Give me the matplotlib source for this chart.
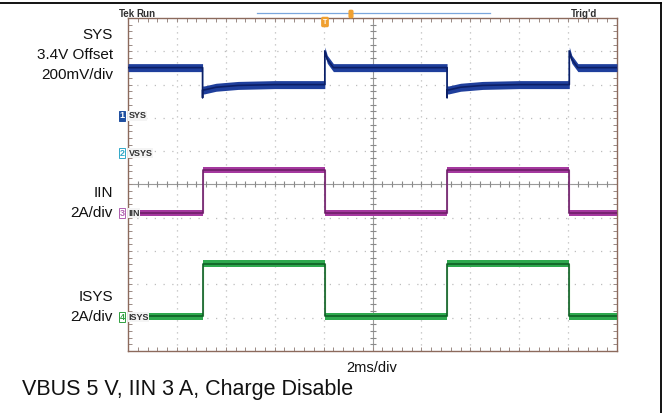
import matplotlib.pyplot as plt
import numpy as np

plt.rcParams['font.family'] = ['Liberation Sans', 'DejaVu Sans']

# time in ms (2 ms/div, 10 div)
time_sys = [0.0, 3.05, 3.05, 3.05, 3.12, 3.6, 4.5, 6.0, 8.05, 8.05, 8.15, 8.4,
            13.05, 13.05, 13.05, 13.12, 13.6, 14.5, 16.0, 18.05, 18.05, 18.15, 18.4, 20.0]
sys_v = [3.69, 3.69, 3.51, 3.556, 3.556, 3.572, 3.583, 3.588, 3.588, 3.79, 3.74, 3.69,
         3.69, 3.51, 3.556, 3.556, 3.572, 3.583, 3.588, 3.588, 3.79, 3.74, 3.69, 3.69]

time_iin = [0.0, 3.05, 3.05, 8.05, 8.05, 13.05, 13.05, 18.05, 18.05, 20.0]
iin_a = [0.0, 0.0, 2.6, 2.6, 0.0, 0.0, 2.6, 2.6, 0.0, 0.0]

time_isys = [0.0, 3.05, 3.05, 8.05, 8.05, 13.05, 13.05, 18.05, 18.05, 20.0]
isys_a = [0.05, 0.05, 3.2, 3.2, 0.05, 0.05, 3.2, 3.2, 0.05, 0.05]

W, H = 669, 413


def px(x, y):
    return x / W, 1 - y / H


fig = plt.figure(figsize=(W / 100, H / 100), dpi=100)
fig.patch.set_facecolor('white')

ax = fig.add_axes([128 / W, 1 - 351 / H, (617 - 128) / W, (351 - 18) / H])
ax.set_xlim(0, 20)
ax.set_ylim(0, 10)

# graticule
for gx in np.arange(2, 20, 2):
    if gx != 10:
        ax.axvline(gx, color='#bdbdbd', lw=0.9, ls=(0, (1.0, 3.8)), zorder=1)
for gy in range(1, 10):
    if gy != 5:
        ax.axhline(gy, color='#bdbdbd', lw=0.9, ls=(0, (1.0, 6.0)), zorder=1)
ax.axvline(10, color='#9a9a9a', lw=0.8, zorder=1)
ax.axhline(5, color='#9a9a9a', lw=0.8, zorder=1)
ax.plot(np.arange(0.4, 20, 0.4), [5] * 49, ls='none', marker='|', ms=4,
        color='#8a8a8a', mew=0.8, zorder=1)
ax.plot([10] * 49, np.arange(0.2, 10, 0.2), ls='none', marker='_', ms=4,
        color='#8a8a8a', mew=0.8, zorder=1)

for s in ax.spines.values():
    s.set_color('#8c6a5c')
    s.set_linewidth(1.0)
ax.set_xticks([])
ax.set_yticks([])
ax.set_xticks(np.arange(0, 20.01, 0.4), minor=True)
ax.set_yticks(np.arange(0, 10.01, 0.2), minor=True)
ax.tick_params(which='minor', direction='in', length=3, width=0.7, color='#9a8a84',
               top=True, right=True, labelbottom=False, labelleft=False)


def trace(t, val, pos, scale, offset, half, band, core, edge):
    t = np.asarray(t)
    d = pos + (np.asarray(val) - offset) / scale
    ax.plot(t, d, color=edge, lw=0.9, zorder=3)
    ax.fill_between(t, d - half, d + half, color=band, lw=0, zorder=4)
    ax.plot(t, d, color=core, lw=1.2, zorder=5)


trace(time_sys, sys_v, 7.06, 0.2, 3.4, 0.12, '#1f3f9c', '#0c1f66', '#3f7fd0')
trace(time_iin, iin_a, 4.14, 2.0, 0.0, 0.09, '#a5399f', '#6e1f68', '#d8a0d8')
trace(time_isys, isys_a, 1.02, 2.0, 0.0, 0.1, '#2ea84e', '#0f5f26', '#a8e0a0')

# channel markers
markers = [('1', 'SYS', 116, '#1f4fa0', True), ('2', 'VSYS', 153, '#30a8c8', False),
           ('3', 'IIN', 213, '#b060b0', False), ('4', 'ISYS', 317, '#30a040', False)]
for num, name, yy, col, filled in markers:
    fig.text(*px(122, yy), num, fontsize=6.5, ha='center', va='center',
             color='white' if filled else col, fontweight='bold',
             bbox=dict(boxstyle='square,pad=0.1', fc=col if filled else 'white',
                       ec=col, lw=0.7))
    fig.text(*px(128.5, yy), name, fontsize=6.5, ha='left', va='center',
             color='#303030', fontweight='bold',
             bbox=dict(boxstyle='square,pad=0.05', fc='#f4f4f4', ec='none'))

# left labels
labels = [('SYS', 35), ('3.4V Offset', 55), ('200mV/div', 75), ('IIN', 193),
          ('2A/div', 213), ('ISYS', 297), ('2A/div', 317)]
for txt, yy in labels:
    fig.text(*px(113, yy), txt, fontsize=11, ha='right', va='center', color='#111111')

fig.text(*px(372, 368), '2ms/div', fontsize=10.5, ha='center', va='center', color='#111111')
fig.text(*px(22, 390), 'VBUS 5 V, IIN 3 A, Charge Disable', fontsize=15.5, ha='left',
         va='center', color='#111111')

# scope header
fig.text(*px(119, 14), 'Tek', fontsize=7, fontweight='bold', ha='left', va='center',
         color='#303030')
fig.text(*px(136, 14), 'Run', fontsize=7, fontweight='bold', ha='left', va='center',
         color='#303030')
fig.text(*px(571, 14), "Trig'd", fontsize=7, fontweight='bold', ha='left', va='center',
         color='#303030')
fig.add_artist(plt.Line2D([257 / W, 490 / W], [1 - 13 / H, 1 - 13 / H], color='#7aa6dc',
                          lw=0.9))
fig.text(*px(325, 22), 'T', fontsize=5, ha='center', va='center', color='white',
         fontweight='bold',
         bbox=dict(boxstyle='round,pad=0.15', fc='#f0a030', ec='#f0a030'))
fig.text(*px(351, 14), ' ', fontsize=4, ha='center', va='center',
         bbox=dict(boxstyle='round,pad=0.2', fc='#f0a030', ec='#f0a030'))

# outer frame
fig.add_artist(plt.Line2D([0, 661 / W], [1 - 2.5 / H, 1 - 2.5 / H], color='black', lw=1.3))
fig.add_artist(plt.Line2D([661 / W, 661 / W], [1 - 2.5 / H, 0], color='black', lw=1.3))

fig.savefig('out.png', dpi=100)
